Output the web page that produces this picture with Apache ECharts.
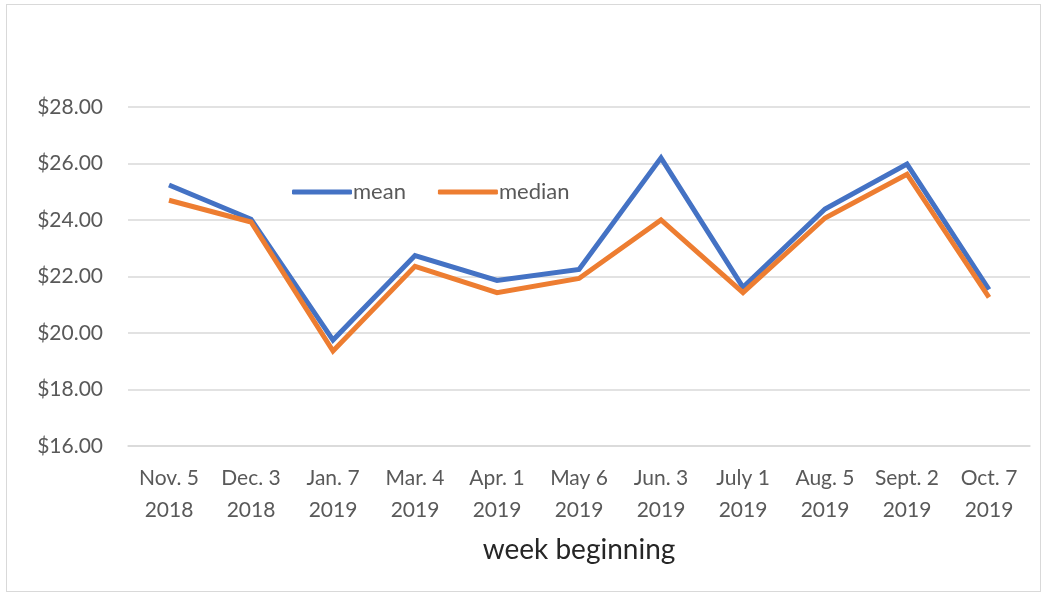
<!DOCTYPE html>
<html>
<head>
<meta charset="utf-8">
<script src="https://cdn.jsdelivr.net/npm/echarts@6/dist/echarts.min.js"></script>
<style>
  html, body { margin: 0; padding: 0; background: #fff; }
  #chart { width: 1043px; height: 593px; }
  .frame { position: absolute; left: 6px; top: 4px; width: 1033px; height: 586px; border: 1px solid #d9d9d9; pointer-events: none; }
</style>
</head>
<body>
<div id="chart"></div>
<div class="frame"></div>
<script>
  // week beginning labels
  var weeks = [
    'Nov. 5\n2018', 'Dec. 3\n2018', 'Jan. 7\n2019', 'Mar. 4\n2019', 'Apr. 1\n2019',
    'May 6\n2019', 'Jun. 3\n2019', 'July 1\n2019', 'Aug. 5\n2019', 'Sept. 2\n2019', 'Oct. 7\n2019'
  ]
  var meanValues = [25.24, 24.03, 19.75, 22.74, 21.86, 22.25, 26.2, 21.62, 24.39, 25.98, 21.54]
  var medianValues = [24.7, 23.93, 19.36, 22.36, 21.43, 21.93, 24.0, 21.43, 24.07, 25.62, 21.26]
  var yMin = 16
  var yMax = 28
  var yStep = 2

  var font = 'Lato, "Open Sans", sans-serif'
  var chart = echarts.init(document.getElementById('chart'))

  chart.setOption({
    animation: false,
    textStyle: { fontFamily: font },
    grid: {
      left: 128,
      right: 13,
      top: 107,
      bottom: 147,
      containLabel: false
    },
    legend: {
      left: 287,
      top: 176,
      icon: 'roundRect',
      itemWidth: 60,
      itemHeight: 5,
      itemGap: 32,
      textStyle: { fontSize: 22, color: '#595959', fontFamily: font, padding: [0, 0, 0, -4] },
      data: ['mean', 'median']
    },
    xAxis: {
      type: 'category',
      data: weeks,
      boundaryGap: true,
      name: 'week beginning',
      nameLocation: 'middle',
      nameGap: 90,
      nameTextStyle: { fontSize: 28, color: '#262626', fontFamily: font },
      axisLine: { lineStyle: { color: '#d9d9d9', width: 1.5 } },
      axisTick: { show: false },
      axisLabel: {
        fontSize: 21,
        color: '#595959',
        lineHeight: 32,
        margin: 16,
        interval: 0
      }
    },
    yAxis: {
      type: 'value',
      min: yMin,
      max: yMax,
      interval: yStep,
      axisLine: { show: false },
      axisTick: { show: false },
      splitLine: { lineStyle: { color: '#d9d9d9', width: 1.5 } },
      axisLabel: {
        fontSize: 21,
        color: '#595959',
        margin: 25,
        formatter: function (v) { return '$' + v.toFixed(2) }
      }
    },
    series: [
      {
        name: 'mean',
        type: 'line',
        data: meanValues,
        symbol: 'none',
        lineStyle: { color: '#4472C4', width: 5, join: 'miter' },
        itemStyle: { color: '#4472C4' }
      },
      {
        name: 'median',
        type: 'line',
        data: medianValues,
        symbol: 'none',
        lineStyle: { color: '#ED7D31', width: 5, join: 'miter' },
        itemStyle: { color: '#ED7D31' }
      }
    ]
  })
</script>
</body>
</html>
